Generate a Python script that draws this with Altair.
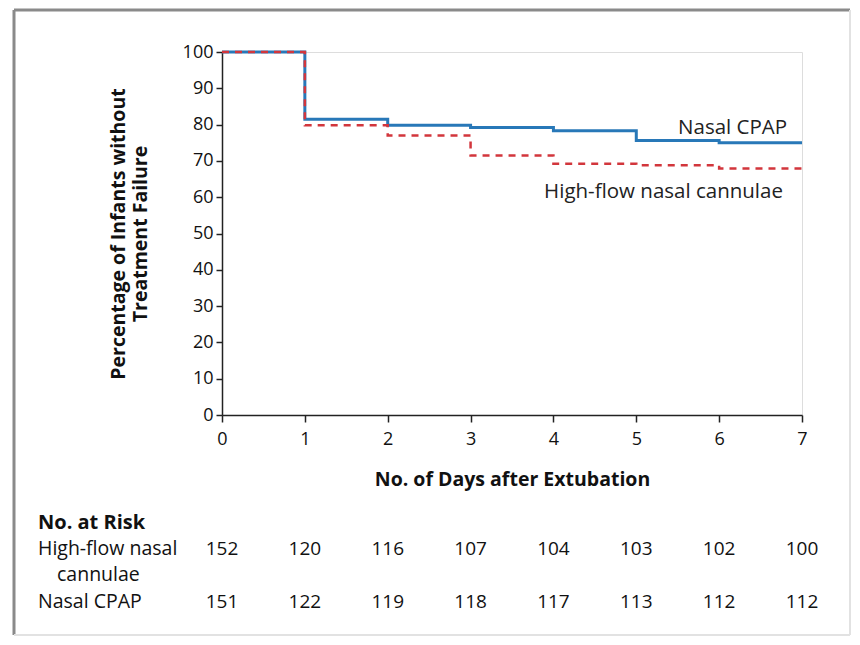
import altair as alt
import pandas as pd

# ---- data ----
days = [0, 1, 2, 3, 4, 5, 6, 7]
cpap_pct = [100, 81.5, 79.8, 79.2, 78.3, 75.6, 75.0, 75.0]
hfnc_pct = [100, 79.8, 77.0, 71.5, 69.2, 68.8, 67.9, 67.9]
risk_hfnc = [152, 120, 116, 107, 104, 103, 102, 100]
risk_cpap = [151, 122, 119, 118, 117, 113, 112, 112]
y_ticks = [0, 10, 20, 30, 40, 50, 60, 70, 80, 90, 100]

FONT = "Open Sans"
BLUE = "#2878b8"
RED = "#d2363c"

W, H = 580, 363

curves = pd.DataFrame({
    "day": days * 2,
    "pct": cpap_pct + hfnc_pct,
    "group": ["Nasal CPAP"] * len(days) + ["High-flow nasal cannulae"] * len(days),
})
cp = curves[curves.group == "Nasal CPAP"]
hf = curves[curves.group != "Nasal CPAP"]

xscale = alt.Scale(domain=[0, 7], nice=False, zero=False)
yscale = alt.Scale(domain=[0, 100], nice=False)

xaxis = alt.Axis(values=days, format="d", title="No. of Days after Extubation",
                 labelFont=FONT, labelFontSize=18, labelColor="#111", labelFlush=False,
                 labelOverlap=False,
                 titleFont=FONT, titleFontSize=19.5, titleFontWeight="bold", titleColor="#111",
                 titlePadding=22, tickSize=7, tickColor="#222", domainColor="#222",
                 domainWidth=1.5, tickWidth=1.5, labelPadding=8, grid=False)
yaxis = alt.Axis(values=y_ticks, format="d", title=["Percentage of Infants without", "Treatment Failure"],
                 labelFont=FONT, labelFontSize=18, labelColor="#111", labelOverlap=False,
                 labelFlush=False, tickCount=11,
                 titleFont=FONT, titleFontSize=19.5, titleFontWeight="bold", titleColor="#111",
                 titlePadding=32, tickSize=6, tickColor="#222", domainColor="#222",
                 domainWidth=1.5, tickWidth=1.5, labelPadding=3, grid=False)

X = alt.X("day:Q", scale=xscale, axis=xaxis)
Y = alt.Y("pct:Q", scale=yscale, axis=yaxis)

blue_line = alt.Chart(cp).mark_line(interpolate="step-after", color=BLUE, strokeWidth=3).encode(x=X, y=Y)
red_line = alt.Chart(hf).mark_line(interpolate="step-after", color=RED, strokeWidth=2.5,
                                   strokeDash=[7, 6]).encode(x=X, y=Y)

labels = pd.DataFrame({
    "day": [6.82, 6.77],
    "pct": [79.2, 61.4],
    "text": ["Nasal CPAP", "High-flow nasal cannulae"],
})
label_marks = alt.Chart(labels).mark_text(align="right", baseline="middle", font=FONT,
                                          fontSize=20.5, color="#222").encode(
    x=X, y=Y, text="text:N")

risk = pd.DataFrame({"day": days, "hf": risk_hfnc, "cp": risk_cpap})
risk_hf = alt.Chart(risk).mark_text(baseline="middle", font=FONT, fontSize=19, color="#111").encode(
    x=X, y=alt.value(497), text="hf:Q")
risk_cp = alt.Chart(risk).mark_text(baseline="middle", font=FONT, fontSize=19, color="#111").encode(
    x=X, y=alt.value(550), text="cp:Q")

row_names = pd.DataFrame({
    "text": ["No. at Risk", "High-flow nasal", "cannulae", "Nasal CPAP"],
    "px": [-184, -184, -165, -184],
    "py": [471, 497, 523, 550],
    "w": ["bold", "normal", "normal", "normal"],
})
row_bold = alt.Chart(row_names[row_names.w == "bold"]).mark_text(
    align="left", baseline="middle", font=FONT, fontSize=20, fontWeight="bold", color="#111").encode(
    x=alt.X("px:Q", scale=None), y=alt.Y("py:Q", scale=None), text="text:N")
row_norm = alt.Chart(row_names[row_names.w == "normal"]).mark_text(
    align="left", baseline="middle", font=FONT, fontSize=19.5, color="#111").encode(
    x=alt.X("px:Q", scale=None), y=alt.Y("py:Q", scale=None), text="text:N")

# outer frame
one = pd.DataFrame({"a": [0]})
frame_dark_top = alt.Chart(one).mark_rule(color="#8a8a8a", strokeWidth=3).encode(
    x=alt.value(-208), x2=alt.value(628), y=alt.value(-42))
frame_dark_left = alt.Chart(one).mark_rule(color="#8a8a8a", strokeWidth=3).encode(
    x=alt.value(-208), y=alt.value(-42), y2=alt.value(583))
frame_light_right = alt.Chart(one).mark_rule(color="#e2e2e2", strokeWidth=2).encode(
    x=alt.value(628), y=alt.value(-42), y2=alt.value(583))
frame_light_bottom = alt.Chart(one).mark_rule(color="#e2e2e2", strokeWidth=2).encode(
    x=alt.value(-208), x2=alt.value(628), y=alt.value(583))

chart = alt.layer(
    blue_line, red_line, label_marks, risk_hf, risk_cp, row_bold, row_norm,
    frame_dark_top, frame_dark_left, frame_light_right, frame_light_bottom,
).properties(
    width=W, height=H,
    autosize=alt.AutoSizeParams(type="none"),
    padding={"left": 214, "top": 44, "right": 50, "bottom": 222},
).configure_view(stroke=None).configure(background="white")

chart.save("out.html", embed_options={"renderer": "svg", "actions": False})
